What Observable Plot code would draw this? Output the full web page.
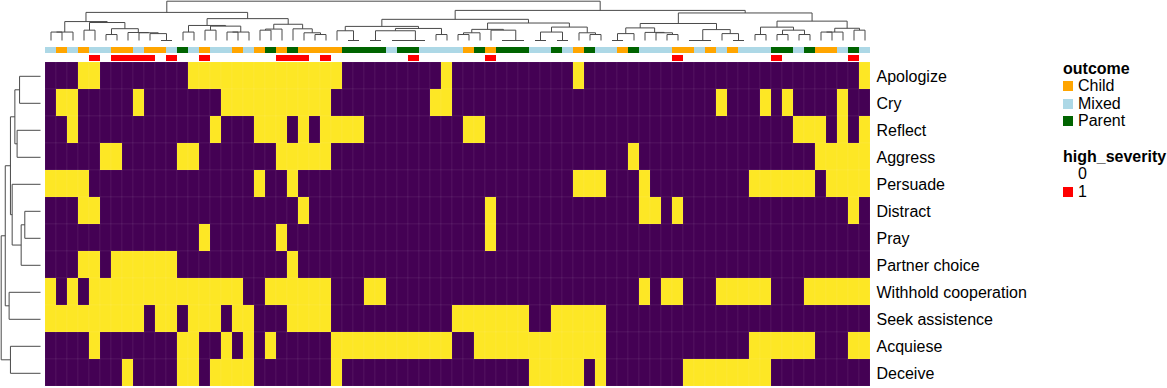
<!DOCTYPE html>
<html>
<head>
<meta charset="utf-8">
<script src="https://cdn.jsdelivr.net/npm/d3@7"></script>
<script src="https://cdn.jsdelivr.net/npm/@observablehq/plot@0.6"></script>
<style>
  html, body { margin: 0; padding: 0; background: #fff; overflow: hidden; }
  #chart { position: relative; width: 1167px; height: 388px; font-family: "Liberation Sans", Arial, sans-serif; }
  #chart svg { position: absolute; left: 0; top: 0; }
  #legend { position: absolute; left: 1063px; top: 59.6px; font-size: 16px; line-height: 17.6px; color: #000; }
  #legend .row { height: 17.6px; white-space: nowrap; position: relative; }
  #legend .title { font-weight: bold; }
  #legend .sw { position: absolute; left: 0; top: 4px; width: 10px; height: 10px; }
  #legend .lab { position: absolute; left: 15px; top: 0; }
</style>
</head>
<body>
<div id="chart"></div>
<script>
// ---- data ----
const behaviors = ["Apologize", "Cry", "Reflect", "Aggress", "Persuade", "Distract", "Pray",
  "Partner choice", "Withhold cooperation", "Seek assistence", "Acquiese", "Deceive"];

// one string per behaviour, 75 columns (1 = yellow / present), spaces only for readability
const heatRows = [
  "0001100000 0001111111 1111111000 0000001000 0000000010 0000000000 0000000000 00001",
  "0110000010 0000001111 1111110000 0000011000 0000000000 0000000000 0100010100 00100",
  "0010000000 0000010001 1101011110 0000000011 0000000000 0000000000 0000000011 10101",
  "0000011000 0011000000 0111110000 0000000000 0000000000 0001000000 0000000000 11111",
  "1111000000 0000000001 0010000000 0000000000 0000000011 1000100000 0000111111 01111",
  "0001100000 0000000000 0001000000 0000000000 1000000000 0000110100 0000000000 00010",
  "0000000000 0000100000 0100000000 0000000000 1000000000 0000000000 0000000000 00000",
  "0001101111 1100000000 0010000000 0000000000 0000000000 0000000000 0000000000 00000",
  "1010111111 1111111100 1111110001 1000000000 0000000000 0000101100 0111110001 11111",
  "1111111110 1101110110 0011110000 0000000111 1111001111 1000000000 0000000000 00000",
  "0000100000 0011001010 1000001111 1111111001 1111111111 1000000000 0000111111 00011",
  "0000000100 0011011110 0000001000 0000000000 0000111110 1000000011 1111110000 00000"
];

// column annotation: outcome (C = Child, M = Mixed, P = Parent)
const outcomeCodes = "MCMCMMCCMC CMPMCMMCMC PCPCCCCPPP PMPPMMMMCP CPPPMMPMCP MMCPMMMCCM CMCMMMPPMP CCMPM";
// column annotation: high_severity (0/1)
const severityCodes = "0000101111 0100100000 0111010000 0001000000 1000000000 0000000100 0000001000 00010";

const outcomeLevels = ["Child", "Mixed", "Parent"];
const outcomeColors = ["#FFA500", "#ADD8E6", "#006400"];
const severityLevels = ["0", "1"];
const severityColors = ["#FFFFFF", "#FF0000"];
const heatColors = ["#440154", "#FDE725"];

// ---- derived tables ----
const matrix = heatRows.map(s => s.replace(/\s/g, "").split("").map(Number));
const nCol = matrix[0].length;
const codeName = {C: "Child", M: "Mixed", P: "Parent"};
const outcome = outcomeCodes.replace(/\s/g, "").split("").map(c => codeName[c]);
const severity = severityCodes.replace(/\s/g, "").split("");

const cells = [];
matrix.forEach((r, i) => r.forEach((v, j) => cells.push({row: behaviors[i], col: j, value: v})));

const annot = [];
for (let j = 0; j < nCol; j++) {
  annot.push({col: j, track: "outcome", key: outcome[j]});
  annot.push({col: j, track: "high_severity", key: "s" + severity[j]});
}

// Ward (ward.D2, euclidean) clustering, merging neighbours in the displayed order
function dendro(vectors) {
  let cl = vectors.map((v, i) => ({n: 1, c: v.slice(), x: i + 0.5, h: 0}));
  const wardH = (A, B) => Math.sqrt(2 * A.n * B.n / (A.n + B.n) * d3.sum(A.c, (v, k) => (v - B.c[k]) ** 2));
  const links = [];
  while (cl.length > 1) {
    let best = Infinity, bi = 0;
    for (let i = 0; i < cl.length - 1; i++) {
      const h = wardH(cl[i], cl[i + 1]);
      if (h < best - 1e-9) { best = h; bi = i; }
    }
    const A = cl[bi], B = cl[bi + 1];
    links.push({x1: A.x, y1: A.h, x2: A.x, y2: best});
    links.push({x1: B.x, y1: B.h, x2: B.x, y2: best});
    links.push({x1: A.x, y1: best, x2: B.x, y2: best});
    const n = A.n + B.n;
    cl.splice(bi, 2, {n, c: A.c.map((v, k) => (v * A.n + B.c[k] * B.n) / n), x: (A.x + B.x) / 2, h: best});
  }
  return {links, hmax: cl[0].h};
}

const colVectors = d3.range(nCol).map(j => matrix.map(r => r[j]));
const colTree = dendro(colVectors);
const rowTree = dendro(matrix);

// ---- layout frame ----
const W = 1167, H = 388;
const hmLeft = 45, hmRight = 870, hmTop = 62.3, hmBottom = 386.3;
const common = {width: W, height: H, style: {background: "transparent", fontFamily: "Liberation Sans, Arial, sans-serif", overflow: "visible"}};
const lineColor = "#4a4a4a";

const heat = Plot.plot({
  ...common,
  marginLeft: hmLeft, marginRight: W - hmRight, marginTop: hmTop, marginBottom: H - hmBottom,
  x: {type: "band", domain: d3.range(nCol), padding: 0, axis: null},
  y: {type: "band", domain: behaviors, padding: 0, axis: null},
  color: {type: "ordinal", domain: [0, 1], range: heatColors},
  marks: [
    Plot.cell(cells, {x: "col", y: "row", fill: "value", inset: 0, stroke: "#ffffff", strokeOpacity: 0.1, strokeWidth: 0.6}),
    Plot.axisY({anchor: "right", label: null, tickSize: 0, tickPadding: 6, fontSize: 16, dy: 1.2, fill: "#000"})
  ]
});

const ann = Plot.plot({
  ...common,
  marginLeft: hmLeft, marginRight: W - hmRight, marginTop: 46.5, marginBottom: H - 60.5,
  x: {type: "band", domain: d3.range(nCol), padding: 0, axis: null},
  y: {type: "band", domain: ["outcome", "high_severity"], paddingInner: 0.25, paddingOuter: 0, axis: null},
  color: {type: "ordinal", domain: outcomeLevels.concat(severityLevels.map(s => "s" + s)), range: outcomeColors.concat(severityColors)},
  marks: [
    Plot.cell(annot, {x: "col", y: "track", fill: "key", inset: 0})
  ]
});

const topDendro = Plot.plot({
  ...common,
  marginLeft: hmLeft, marginRight: W - hmRight, marginTop: 0.7, marginBottom: H - 40,
  x: {type: "linear", domain: [0, nCol], axis: null},
  y: {type: "linear", domain: [0, colTree.hmax], axis: null},
  marks: [
    Plot.link(colTree.links, {x1: "x1", y1: "y1", x2: "x2", y2: "y2", stroke: lineColor, strokeWidth: 1})
  ]
});

const leftDendro = Plot.plot({
  ...common,
  marginLeft: 0.7, marginRight: W - 40, marginTop: hmTop, marginBottom: H - hmBottom,
  x: {type: "linear", domain: [rowTree.hmax, 0], axis: null},
  y: {type: "linear", domain: [0, behaviors.length], reverse: true, axis: null},
  marks: [
    Plot.link(rowTree.links, {y1: "x1", x1: "y1", y2: "x2", x2: "y2", stroke: lineColor, strokeWidth: 1})
  ]
});

const chart = document.getElementById("chart");
chart.append(heat, ann, topDendro, leftDendro);

// ---- legend ----
const legend = document.createElement("div");
legend.id = "legend";
function addRow(label, color, isTitle) {
  const row = document.createElement("div");
  row.className = "row";
  if (isTitle) {
    row.innerHTML = `<span class="title">${label}</span>`;
  } else if (label !== null) {
    if (color) {
      const sw = document.createElement("div");
      sw.className = "sw";
      sw.style.background = color;
      row.append(sw);
    }
    const lab = document.createElement("span");
    lab.className = "lab";
    lab.textContent = label;
    row.append(lab);
  }
  legend.append(row);
}
addRow("outcome", null, true);
outcomeLevels.forEach((l, i) => addRow(l, outcomeColors[i]));
addRow(null);
addRow("high_severity", null, true);
severityLevels.forEach((l, i) => addRow(l, severityColors[i]));
chart.append(legend);
</script>
</body>
</html>
